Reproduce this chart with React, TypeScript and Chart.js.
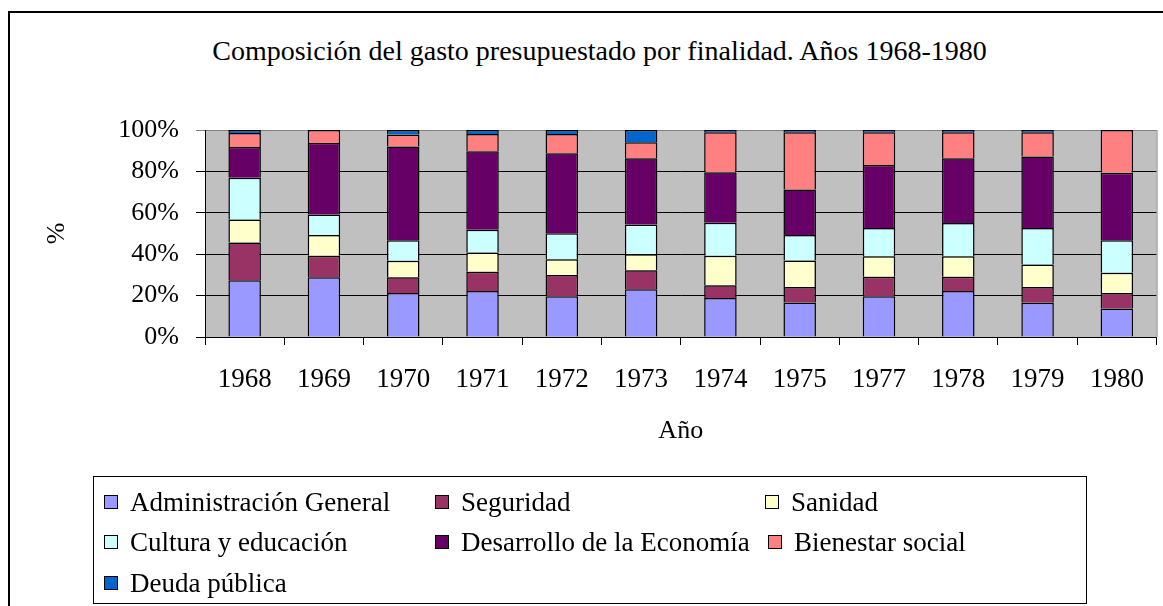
import React, { useEffect, useRef } from "react";
import { Chart, registerables } from "chart.js";

Chart.register(...registerables);

const years = ["1968", "1969", "1970", "1971", "1972", "1973", "1974", "1975", "1977", "1978", "1979", "1980"];
const administracion = [27.4, 28.9, 21.3, 22.2, 19.7, 23.1, 18.9, 16.7, 19.7, 22.2, 16.5, 13.8];
const seguridad = [18.2, 10.3, 7.6, 9.3, 10.2, 9.2, 6.1, 7.5, 9.4, 6.9, 7.7, 7.5];
const sanidad = [11.2, 10.1, 7.9, 9.3, 7.7, 7.7, 14.3, 12.7, 9.9, 9.9, 10.8, 9.7];
const cultura = [20.1, 9.9, 9.9, 11.0, 12.5, 14.3, 15.9, 12.4, 13.6, 16.1, 17.6, 15.7];
const desarrollo = [14.9, 34.5, 45.3, 37.9, 38.7, 32.1, 24.4, 22.0, 30.5, 31.3, 34.6, 32.6];
const bienestar = [6.7, 6.3, 5.8, 8.4, 9.3, 7.7, 19.3, 27.6, 15.8, 12.5, 11.7, 20.7];
const deuda = [1.5, 0, 2.2, 1.9, 1.9, 5.9, 1.1, 1.1, 1.1, 1.1, 1.1, 0];
const yTicks = [0, 20, 40, 60, 80, 100];

const titleText = "Composición del gasto presupuestado por finalidad. Años 1968-1980";
const seriesNames = [
  "Administración General",
  "Seguridad",
  "Sanidad",
  "Cultura y educación",
  "Desarrollo de la Economía",
  "Bienestar social",
  "Deuda pública",
];
const seriesColors = ["#9999FF", "#993366", "#FFFFCC", "#CCFFFF", "#660066", "#FF8080", "#0066CC"];
const seriesData = [administracion, seguridad, sanidad, cultura, desarrollo, bienestar, deuda];

const FONT = "'Liberation Serif', 'Times New Roman', serif";

// legend layout: [left of swatch, row center]
const legendPos = [
  [104, 502],
  [435, 502],
  [765, 502],
  [104, 542],
  [435, 542],
  [768, 542],
  [104, 583],
];

const plotBg = {
  id: "plotBg",
  beforeDraw(chart: any) {
    const { ctx, chartArea } = chart;
    ctx.save();
    ctx.fillStyle = "#C0C0C0";
    ctx.fillRect(chartArea.left, chartArea.top, chartArea.right - chartArea.left, chartArea.bottom - chartArea.top);
    ctx.restore();
  },
  afterDraw(chart: any) {
    const { ctx, chartArea } = chart;
    ctx.save();
    ctx.strokeStyle = "#808080";
    ctx.lineWidth = 1;
    ctx.beginPath();
    ctx.moveTo(chartArea.right + 0.5, chartArea.top);
    ctx.lineTo(chartArea.right + 0.5, chartArea.bottom);
    ctx.stroke();
    ctx.restore();
  },
};

export default function App() {
  const ref = useRef<HTMLCanvasElement>(null);
  useEffect(() => {
    if (!ref.current) return;
    const chart = new Chart(ref.current, {
      type: "bar",
      data: {
        labels: years,
        datasets: seriesData.map((d, i) => ({
          label: seriesNames[i],
          data: d,
          backgroundColor: seriesColors[i],
          borderColor: "#000000",
          borderWidth: 1.5,
          barPercentage: 0.41,
          categoryPercentage: 1,
        })),
      },
      options: {
        animation: false,
        responsive: false,
        devicePixelRatio: 1,
        layout: { padding: { left: 0, right: 3, top: 130, bottom: 136 } },
        plugins: {
          legend: { display: false },
          tooltip: { enabled: false },
          title: { display: false },
        },
        scales: {
          x: {
            stacked: true,
            grid: { display: true, drawOnChartArea: false, drawTicks: true, tickLength: 8, color: "#000", offset: true },
            border: { display: true, color: "#000", width: 1 },
            ticks: { color: "#000", font: { family: FONT, size: 27 }, padding: 19, maxRotation: 0, autoSkip: false },
            title: { display: true, text: "Año", color: "#000", font: { family: FONT, size: 26 }, padding: { top: 0, bottom: 23 } },
            afterFit: (s: any) => { s.height = 133; },
          },
          y: {
            stacked: true,
            min: 0,
            max: 100,
            afterBuildTicks: (s: any) => { s.ticks = yTicks.map((v) => ({ value: v })); },
            grid: {
              color: (c: any) => (c.tick && c.tick.value === 100 ? "#808080" : "#000"),
              tickLength: 9,
              drawTicks: true,
            },
            border: { display: true, color: "#000", width: 1 },
            ticks: { color: "#000", font: { family: FONT, size: 26 }, padding: 17, callback: (v: any) => v + "%" },
            title: { display: true, text: "%", color: "#000", font: { family: FONT, size: 26 }, padding: { top: 42, bottom: 0 } },
            afterFit: (s: any) => { s.width = 205; },
          },
        },
      },
      plugins: [plotBg],
    });
    return () => chart.destroy();
  }, []);

  return (
    <div style={{ position: "fixed", left: 0, top: 0, width: 1163, height: 606, background: "#fff", overflow: "hidden", fontFamily: FONT }}>
      <div style={{ position: "absolute", left: 8, top: 11, width: 1300, height: 800, borderLeft: "2px solid #000", borderTop: "2px solid #000" }} />
      <div style={{ position: "absolute", left: 18, top: 35, width: 1163, height: 32, lineHeight: "32px", textAlign: "center", fontSize: 28, color: "#000", whiteSpace: "nowrap" }}>
        {titleText}
      </div>
      <canvas ref={ref} width={1163} height={606} style={{ position: "absolute", left: 0, top: 0, width: 1163, height: 606 }} />
      <div style={{ position: "absolute", left: 93, top: 476, width: 994, height: 128, border: "1px solid #000", boxSizing: "border-box" }} />
      {seriesNames.map((n, i) => (
        <div key={n} style={{ position: "absolute", left: legendPos[i][0], top: legendPos[i][1] - 16, height: 32, display: "flex", alignItems: "center", whiteSpace: "nowrap", fontSize: 27, color: "#000", lineHeight: "32px" }}>
          <span style={{ display: "inline-block", width: 12, height: 12, background: seriesColors[i], border: "1px solid #000", marginRight: 12 }} />
          <span>{n}</span>
        </div>
      ))}
    </div>
  );
}
